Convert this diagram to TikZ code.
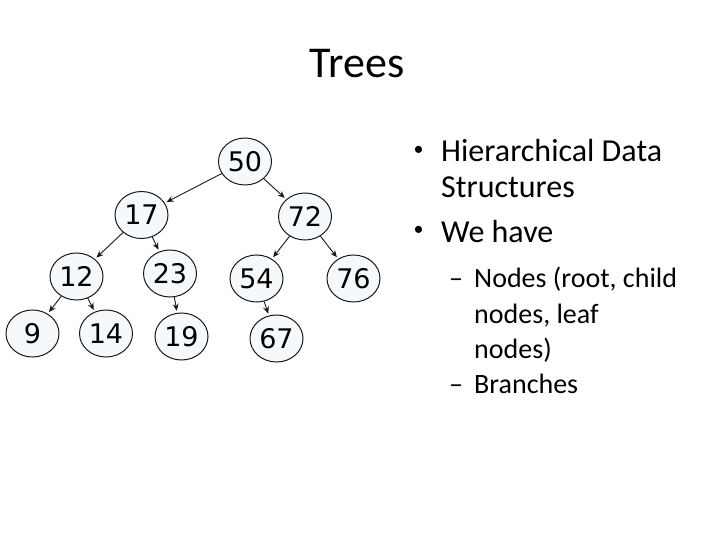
\documentclass[tikz,border=0pt]{standalone}
\usepackage{fontspec}
\setmainfont{Carlito}
\newfontfamily\treefont{DejaVu Sans}
\usetikzlibrary{arrows.meta,shapes.geometric}
\definecolor{nodefill}{HTML}{F6F9FC}
\tikzset{
  tnode/.style={ellipse, draw=black!90, line width=1pt, fill=nodefill,
    minimum width=53pt, minimum height=47pt, inner sep=0pt,
    font=\treefont\fontsize{27}{27}\selectfont},
  edge/.style={draw=black!90, line width=0.9pt, -{Stealth[length=7pt,width=6pt]}, shorten >=2pt},
  lvlone/.style={anchor=base west, inner sep=0pt, font=\fontsize{32}{32}\selectfont},
  bul/.style={anchor=base, inner sep=0pt, font=\fontsize{20}{20}\selectfont},
  lvltwo/.style={anchor=base west, inner sep=0pt, font=\fontsize{28}{28}\selectfont}
}
\begin{document}
\begin{tikzpicture}[x=1pt,y=-1pt]
\useasboundingbox (0,0) rectangle (720,540);
\node[anchor=base, inner sep=0pt, font=\fontsize{44}{44}\selectfont] (title) at (357,78) {Trees};

\node[tnode] (n50) at (245,161.5) {50};
\node[tnode] (n17) at (141.5,215) {17};
\node[tnode] (n72) at (305,216.5) {72};
\node[tnode] (n12) at (76.5,276.5) {12};
\node[tnode] (n23) at (170,273.5) {23};
\node[tnode] (n54) at (256.5,278.5) {54};
\node[tnode] (n76) at (353.5,278.5) {76};
\node[tnode] (n9) at (32.5,333.5) {9};
\node[tnode] (n14) at (106,333.5) {14};
\node[tnode] (n19) at (181.5,336.5) {19};
\node[tnode] (n67) at (276.5,338.5) {67};

\draw[edge] (n50) -- (n17);
\draw[edge] (n50) -- (n72);
\draw[edge] (n17) -- (n12);
\draw[edge] (n17) -- (n23);
\draw[edge] (n72) -- (n54);
\draw[edge] (n72) -- (n76);
\draw[edge] (n12) -- (n9);
\draw[edge] (n12) -- (n14);
\draw[edge] (n23) -- (n19);
\draw[edge] (n54) -- (n67);

\node[bul] (b1) at (418.5,156) {•};
\node[lvlone] (t1) at (441,162) {Hierarchical Data};
\node[lvlone] (t2) at (441,198) {Structures};
\node[bul] (b2) at (418.5,236) {•};
\node[lvlone] (t3) at (441,242) {We have};
\node[lvltwo] (d1) at (449,287) {–};
\node[lvltwo] (s1) at (474,287) {Nodes (root, child};
\node[lvltwo] (s2) at (474,323) {nodes, leaf};
\node[lvltwo] (s3) at (474,358) {nodes)};
\node[lvltwo] (d2) at (449,393) {–};
\node[lvltwo] (s4) at (474,393) {Branches};
\end{tikzpicture}
\end{document}
